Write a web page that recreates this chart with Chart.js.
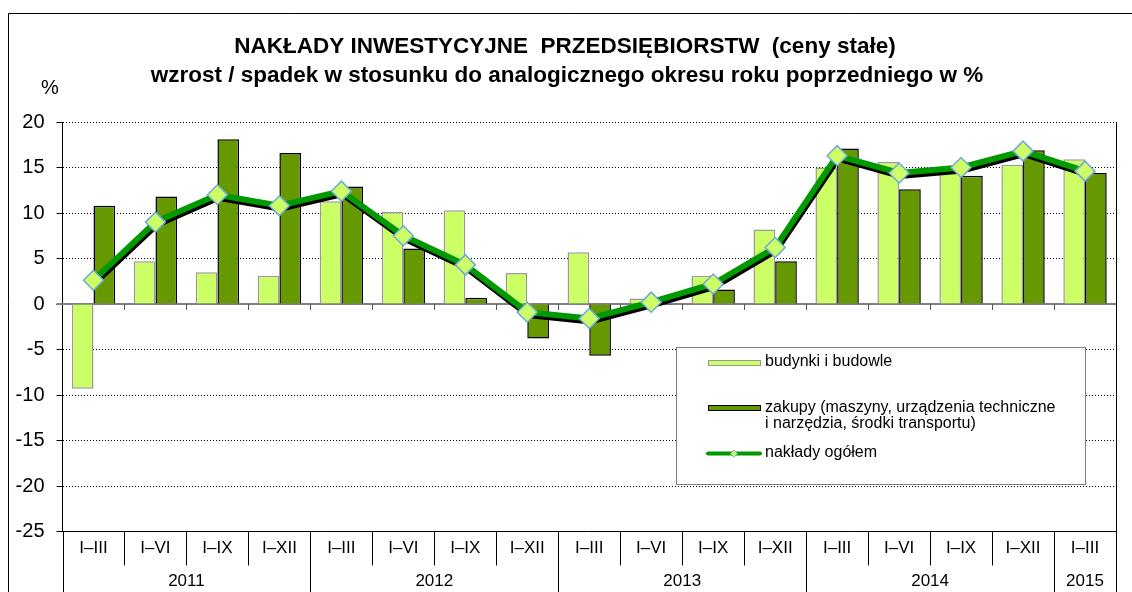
<!DOCTYPE html>
<html>
<head>
<meta charset="utf-8">
<script src="https://cdn.jsdelivr.net/npm/chart.js@4.4.1/dist/chart.umd.min.js"></script>
<style>
    html, body { margin: 0; padding: 0; background: #fff; }
    #wrap { width: 1132px; height: 592px; position: relative; }
</style>
</head>
<body>
<div id="wrap"><canvas id="chart"></canvas></div>
<script>
// data
const categories = [
    `I–III`, `I–VI`, `I–IX`, `I–XII`,
    `I–III`, `I–VI`, `I–IX`, `I–XII`,
    `I–III`, `I–VI`, `I–IX`, `I–XII`,
    `I–III`, `I–VI`, `I–IX`, `I–XII`,
    `I–III`
];
const years = [`2011`, `2012`, `2013`, `2014`, `2015`];
const yearSpans = [4, 4, 4, 4, 1];

const budynki = [-9.3, 4.7, 3.5, 3.1, 11.3, 10.1, 10.3, 3.4, 5.7, 0.6, 3.1, 8.2, 15.0, 15.6, 14.7, 15.3, 15.9];
const zakupy  = [10.8, 11.8, 18.1, 16.6, 12.9, 6.1, 0.7, -3.8, -5.7, -0.1, 1.6, 4.7, 17.1, 12.6, 14.1, 16.9, 14.4];
const ogolem  = [2.6, 9.0, 12.0, 10.8, 12.4, 7.5, 4.3, -0.9, -1.6, 0.2, 2.2, 6.2, 16.3, 14.4, 15.0, 16.8, 14.6];

const yMin = -25;
const yMax = 20;
const yStep = 5;

const titleLines = [
    `NAKŁADY INWESTYCYJNE  PRZEDSIĘBIORSTW  (ceny stałe)`,
    `wzrost / spadek w stosunku do analogicznego okresu roku poprzedniego w %`
];
const legendLabels = [
    [`budynki i budowle`],
    [`zakupy (maszyny, urządzenia techniczne`, `i narzędzia, środki transportu)`],
    [`nakłady ogółem`]
];

const FONT = `Arial, "Liberation Sans", sans-serif`;
const LIGHT = `#ccff66`;
const DARK = `#669900`;
const LINE = `#009900`;
const MARKER_EDGE = `#6fa8dc`;

const LINE_INDEX = 2;

// black drop shadow under the total line
const lineShadow = {
    id: `lineShadow`,
    beforeDatasetDraw(chart, args) {
        if (args.index !== LINE_INDEX) return;
        const ctx = chart.ctx;
        ctx.save();
        ctx.shadowColor = `#000`;
        ctx.shadowBlur = 0;
        ctx.shadowOffsetX = 1;
        ctx.shadowOffsetY = 3;
    },
    afterDatasetDraw(chart, args) {
        if (args.index !== LINE_INDEX) return;
        chart.ctx.restore();
    }
};

// zero line and its small ticks, under the bars
const zeroLine = {
    id: `zeroLine`,
    beforeDatasetsDraw(chart) {
        const ctx = chart.ctx;
        const x = chart.scales.x;
        const y0 = Math.round(chart.scales.y.getPixelForValue(0));
        const w = (x.right - x.left) / categories.length;
        ctx.save();
        ctx.strokeStyle = `#808080`;
        ctx.lineWidth = 2;
        ctx.beginPath();
        ctx.moveTo(x.left - 6, y0);
        ctx.lineTo(x.right, y0);
        ctx.stroke();
        ctx.lineWidth = 1;
        ctx.strokeStyle = `#555`;
        ctx.beginPath();
        for (let i = 1; i < categories.length; i++) {
            const px = Math.round(x.left + i * w) + 0.5;
            ctx.moveTo(px, y0);
            ctx.lineTo(px, y0 + 6);
        }
        ctx.stroke();
        ctx.restore();
    }
};

// frame, titles, two-level category axis and the legend box
const decorations = {
    id: `decorations`,
    beforeDraw(chart) {
        const ctx = chart.ctx;
        ctx.save();
        ctx.fillStyle = `#fff`;
        ctx.fillRect(0, 0, chart.width, chart.height);
        ctx.strokeStyle = `#000`;
        ctx.lineWidth = 1;
        ctx.beginPath();
        ctx.moveTo(8.5, chart.height);
        ctx.lineTo(8.5, 13.5);
        ctx.lineTo(chart.width, 13.5);
        ctx.stroke();
        ctx.restore();
    },
    afterDraw(chart) {
        const ctx = chart.ctx;
        const x = chart.scales.x;
        const area = chart.chartArea;
        const w = (x.right - x.left) / categories.length;
        ctx.save();

        // title
        ctx.fillStyle = `#000`;
        ctx.textAlign = `center`;
        ctx.textBaseline = `middle`;
        ctx.font = `bold 22.5px ${FONT}`;
        ctx.fillText(titleLines[0], 565, 47);
        ctx.fillText(titleLines[1], 567, 76);
        ctx.font = `20px ${FONT}`;
        ctx.fillText(`%`, 50, 88);

        // right border of the plot, down through the label rows
        ctx.strokeStyle = `#000`;
        ctx.lineWidth = 1;
        ctx.beginPath();
        const rx = Math.round(area.right) + 0.5;
        ctx.moveTo(rx, area.top);
        ctx.lineTo(rx, chart.height);
        const lx = Math.round(area.left) + 0.5;
        ctx.moveTo(lx, area.bottom);
        ctx.lineTo(lx, chart.height);
        ctx.stroke();

        // category labels and separators
        ctx.font = `17px ${FONT}`;
        const rowY = area.bottom + 17;
        const sepShort = area.bottom + 34;
        categories.forEach((label, i) => {
            ctx.fillText(label, x.getPixelForValue(i), rowY);
        });
        ctx.beginPath();
        let boundary = 0;
        const yearBounds = new Set();
        yearSpans.forEach(n => { boundary += n; yearBounds.add(boundary); });
        for (let i = 1; i < categories.length; i++) {
            const px = Math.round(x.left + i * w) + 0.5;
            ctx.moveTo(px, area.bottom);
            ctx.lineTo(px, yearBounds.has(i) ? chart.height : sepShort);
        }
        ctx.stroke();

        // year labels
        let start = 0;
        years.forEach((year, k) => {
            const cx = x.left + (start + yearSpans[k] / 2) * w;
            ctx.fillText(year, cx, area.bottom + 50);
            start += yearSpans[k];
        });

        // legend box
        const bx = 676.5, by = 347.5, bw = 409, bh = 137;
        ctx.fillStyle = `#fff`;
        ctx.fillRect(bx, by, bw, bh);
        ctx.strokeStyle = `#808080`;
        ctx.strokeRect(bx, by, bw, bh);

        ctx.font = `16px ${FONT}`;
        ctx.textAlign = `left`;
        const sx = 708, sw = 52, tx = 765;
        // light bar swatch
        ctx.fillStyle = LIGHT;
        ctx.fillRect(sx, 360, sw, 6);
        ctx.strokeStyle = `#999`;
        ctx.strokeRect(sx + 0.5, 360.5, sw, 5);
        // dark bar swatch
        ctx.fillStyle = DARK;
        ctx.fillRect(sx, 405, sw, 6);
        ctx.strokeStyle = `#000`;
        ctx.strokeRect(sx + 0.5, 405.5, sw, 5);
        // line swatch
        ctx.strokeStyle = LINE;
        ctx.lineWidth = 4;
        ctx.lineCap = `round`;
        ctx.beginPath();
        ctx.moveTo(sx, 453.5);
        ctx.lineTo(sx + sw, 453.5);
        ctx.stroke();
        ctx.lineWidth = 1;
        ctx.fillStyle = LIGHT;
        ctx.strokeStyle = MARKER_EDGE;
        ctx.beginPath();
        const mx = sx + sw / 2, my = 453.5, mr = 3.5;
        ctx.moveTo(mx - mr, my);
        ctx.lineTo(mx, my - mr);
        ctx.lineTo(mx + mr, my);
        ctx.lineTo(mx, my + mr);
        ctx.closePath();
        ctx.fill();
        ctx.stroke();

        ctx.fillStyle = `#000`;
        ctx.fillText(legendLabels[0][0], tx, 362);
        ctx.fillText(legendLabels[1][0], tx, 408);
        ctx.fillText(legendLabels[1][1], tx, 424);
        ctx.fillText(legendLabels[2][0], tx, 453);

        ctx.restore();
    }
};

const ctx2d = document.getElementById(`chart`).getContext(`2d`);

new Chart(ctx2d, {
    type: `bar`,
    data: {
        labels: categories,
        datasets: [
            {
                label: legendLabels[0].join(` `),
                data: budynki,
                backgroundColor: LIGHT,
                borderColor: `#999999`,
                borderWidth: 1.5,
                categoryPercentage: 0.7,
                barPercentage: 1,
                order: 2
            },
            {
                label: legendLabels[1].join(` `),
                data: zakupy,
                backgroundColor: DARK,
                borderColor: `#000`,
                borderWidth: 1.5,
                categoryPercentage: 0.7,
                barPercentage: 1,
                order: 2
            },
            {
                type: `line`,
                label: legendLabels[2][0],
                data: ogolem,
                borderColor: LINE,
                borderWidth: 6,
                tension: 0,
                pointRadius: 0,
                order: 1
            },
            {
                type: `line`,
                label: legendLabels[2][0],
                data: ogolem,
                showLine: false,
                pointStyle: `rectRot`,
                pointRadius: 10,
                pointBackgroundColor: LIGHT,
                pointBorderColor: MARKER_EDGE,
                pointBorderWidth: 1.5,
                order: 0
            }
        ]
    },
    options: {
        responsive: true,
        maintainAspectRatio: false,
        animation: false,
        layout: {
            padding: { top: 122, right: 16, left: 0, bottom: 0 }
        },
        plugins: {
            legend: { display: false },
            title: { display: false },
            tooltip: { enabled: false }
        },
        scales: {
            x: {
                offset: true,
                grid: { display: false },
                border: { display: true, color: `#000`, width: 1 },
                ticks: { display: false },
                afterFit: scale => { scale.height = 60.5; }
            },
            y: {
                min: yMin,
                max: yMax,
                ticks: {
                    stepSize: yStep,
                    color: `#000`,
                    padding: 12,
                    font: { family: FONT, size: 20 }
                },
                grid: {
                    color: `#000`,
                    lineWidth: 1,
                    tickLength: 6,
                    tickColor: `#000`
                },
                border: { display: true, color: `#000`, width: 1, dash: [1, 2] },
                afterFit: scale => { scale.width = 62.5; }
            }
        }
    },
    plugins: [decorations, zeroLine, lineShadow]
});
</script>
</body>
</html>
